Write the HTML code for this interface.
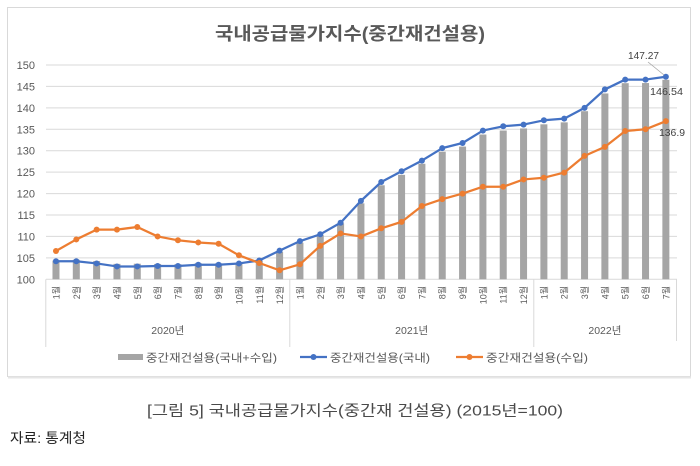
<!DOCTYPE html>
<html><head><meta charset="utf-8"><style>
html,body{margin:0;padding:0;background:#fff;}
svg{display:block;}
text{font-family:"Liberation Sans","Noto Sans CJK KR",sans-serif;}
</style></head><body>
<svg width="700" height="466" viewBox="0 0 700 466" xmlns="http://www.w3.org/2000/svg">
<rect x="0" y="0" width="700" height="466" fill="#fff"/>
<!-- frame -->
<rect x="7.5" y="7.5" width="683" height="369" fill="#fff" stroke="#d9d9d9" stroke-width="1"/>
<line x1="8" y1="377.5" x2="691" y2="377.5" stroke="#e6e6e6" stroke-width="2"/>
<!-- title -->
<text x="350" y="40" text-anchor="middle" font-size="18" font-weight="bold" fill="#595959" textLength="270" lengthAdjust="spacingAndGlyphs">국내공급물가지수(중간재건설용)</text>
<!-- gridlines -->
<g stroke="#d9d9d9" stroke-width="1">
<line x1="46" y1="65" x2="677" y2="65"/>
<line x1="46" y1="86.4" x2="677" y2="86.4"/>
<line x1="46" y1="107.9" x2="677" y2="107.9"/>
<line x1="46" y1="129.3" x2="677" y2="129.3"/>
<line x1="46" y1="150.7" x2="677" y2="150.7"/>
<line x1="46" y1="172.1" x2="677" y2="172.1"/>
<line x1="46" y1="193.6" x2="677" y2="193.6"/>
<line x1="46" y1="215" x2="677" y2="215"/>
<line x1="46" y1="236.4" x2="677" y2="236.4"/>
<line x1="46" y1="257.9" x2="677" y2="257.9"/>
<line x1="46" y1="279.3" x2="677" y2="279.3"/>
<line x1="45.8" y1="279.3" x2="45.8" y2="347"/>
<line x1="289.8" y1="279.3" x2="289.8" y2="347"/>
<line x1="533.8" y1="279.3" x2="533.8" y2="347"/>
<line x1="676.5" y1="279.3" x2="676.5" y2="341"/>
</g>
<!-- y labels -->
<g font-size="11" fill="#595959" text-anchor="end">
<text x="35" y="69">150</text>
<text x="35" y="90.4">145</text>
<text x="35" y="111.9">140</text>
<text x="35" y="133.3">135</text>
<text x="35" y="154.7">130</text>
<text x="35" y="176.1">125</text>
<text x="35" y="197.6">120</text>
<text x="35" y="219">115</text>
<text x="35" y="240.4">110</text>
<text x="35" y="261.9">105</text>
<text x="35" y="283.3">100</text>
</g>
<!-- bars -->
<g fill="#a5a5a5">
<rect x="52.47" y="260.57" width="7" height="18.73"/>
<rect x="72.80" y="259.76" width="7" height="19.54"/>
<rect x="93.13" y="261.08" width="7" height="18.22"/>
<rect x="113.46" y="263.87" width="7" height="15.43"/>
<rect x="133.79" y="263.7" width="7" height="15.6"/>
<rect x="154.12" y="263.96" width="7" height="15.34"/>
<rect x="174.45" y="264.21" width="7" height="15.09"/>
<rect x="194.78" y="263.18" width="7" height="16.12"/>
<rect x="215.11" y="263.27" width="7" height="16.03"/>
<rect x="235.44" y="262.88" width="7" height="16.42"/>
<rect x="255.77" y="260.61" width="7" height="18.69"/>
<rect x="276.10" y="251.96" width="7" height="27.34"/>
<rect x="296.43" y="242.78" width="7" height="36.52"/>
<rect x="316.76" y="235.11" width="7" height="44.19"/>
<rect x="337.09" y="223.45" width="7" height="55.85"/>
<rect x="357.42" y="203.35" width="7" height="75.95"/>
<rect x="377.75" y="185.27" width="7" height="94.03"/>
<rect x="398.08" y="174.85" width="7" height="104.45"/>
<rect x="418.41" y="163.75" width="7" height="115.55"/>
<rect x="438.74" y="151.71" width="7" height="127.59"/>
<rect x="459.07" y="146.56" width="7" height="132.74"/>
<rect x="479.40" y="134.52" width="7" height="144.78"/>
<rect x="499.73" y="130.53" width="7" height="148.77"/>
<rect x="520.06" y="128.43" width="7" height="150.87"/>
<rect x="540.39" y="124.32" width="7" height="154.98"/>
<rect x="560.72" y="122.35" width="7" height="156.95"/>
<rect x="581.05" y="111.2" width="7" height="168.1"/>
<rect x="601.38" y="93.46" width="7" height="185.84"/>
<rect x="621.71" y="83.17" width="7" height="196.13"/>
<rect x="642.04" y="83.04" width="7" height="196.26"/>
<rect x="662.37" y="79.83" width="7" height="199.47"/>
</g>
<!-- blue line -->
<polyline fill="none" stroke="#4472c4" stroke-width="2.25" stroke-linejoin="round" points="55.97,261.3 76.30,261.3 96.63,263.44 116.96,266.44 137.29,266.44 157.62,266.01 177.95,266.01 198.28,264.73 218.61,264.73 238.94,263.44 259.27,260.44 279.60,250.58 299.93,241.15 320.26,234.3 340.59,222.72 360.92,200.87 381.25,182.01 401.58,171.3 421.91,160.58 442.24,148.15 462.57,143.01 482.90,130.58 503.23,126.29 523.56,124.58 543.89,120.29 564.22,118.57 584.55,107.86 604.88,89.43 625.21,79.57 645.54,79.57 665.87,76.7"/>
<g fill="#4472c4">
<circle cx="55.97" cy="261.3" r="3"/><circle cx="76.30" cy="261.3" r="3"/><circle cx="96.63" cy="263.44" r="3"/><circle cx="116.96" cy="266.44" r="3"/><circle cx="137.29" cy="266.44" r="3"/><circle cx="157.62" cy="266.01" r="3"/><circle cx="177.95" cy="266.01" r="3"/><circle cx="198.28" cy="264.73" r="3"/><circle cx="218.61" cy="264.73" r="3"/><circle cx="238.94" cy="263.44" r="3"/><circle cx="259.27" cy="260.44" r="3"/><circle cx="279.60" cy="250.58" r="3"/><circle cx="299.93" cy="241.15" r="3"/><circle cx="320.26" cy="234.3" r="3"/><circle cx="340.59" cy="222.72" r="3"/><circle cx="360.92" cy="200.87" r="3"/><circle cx="381.25" cy="182.01" r="3"/><circle cx="401.58" cy="171.3" r="3"/><circle cx="421.91" cy="160.58" r="3"/><circle cx="442.24" cy="148.15" r="3"/><circle cx="462.57" cy="143.01" r="3"/><circle cx="482.90" cy="130.58" r="3"/><circle cx="503.23" cy="126.29" r="3"/><circle cx="523.56" cy="124.58" r="3"/><circle cx="543.89" cy="120.29" r="3"/><circle cx="564.22" cy="118.57" r="3"/><circle cx="584.55" cy="107.86" r="3"/><circle cx="604.88" cy="89.43" r="3"/><circle cx="625.21" cy="79.57" r="3"/><circle cx="645.54" cy="79.57" r="3"/><circle cx="665.87" cy="76.7" r="3"/>
</g>
<!-- orange line -->
<polyline fill="none" stroke="#ed7d31" stroke-width="2.25" stroke-linejoin="round" points="55.97,251.01 76.30,239.44 96.63,229.58 116.96,229.58 137.29,227.01 157.62,236.44 177.95,240.3 198.28,242.44 218.61,243.73 238.94,255.3 259.27,263.01 279.60,270.3 299.93,264.3 320.26,245.87 340.59,233.44 360.92,236.44 381.25,228.3 401.58,221.87 421.91,206.01 442.24,199.15 462.57,193.58 482.90,186.72 503.23,186.72 523.56,179.44 543.89,177.72 564.22,172.58 584.55,155.86 604.88,146.86 625.21,131.0 645.54,129.29 665.87,121.15"/>
<g fill="#ed7d31">
<circle cx="55.97" cy="251.01" r="3"/><circle cx="76.30" cy="239.44" r="3"/><circle cx="96.63" cy="229.58" r="3"/><circle cx="116.96" cy="229.58" r="3"/><circle cx="137.29" cy="227.01" r="3"/><circle cx="157.62" cy="236.44" r="3"/><circle cx="177.95" cy="240.3" r="3"/><circle cx="198.28" cy="242.44" r="3"/><circle cx="218.61" cy="243.73" r="3"/><circle cx="238.94" cy="255.3" r="3"/><circle cx="259.27" cy="263.01" r="3"/><circle cx="279.60" cy="270.3" r="3"/><circle cx="299.93" cy="264.3" r="3"/><circle cx="320.26" cy="245.87" r="3"/><circle cx="340.59" cy="233.44" r="3"/><circle cx="360.92" cy="236.44" r="3"/><circle cx="381.25" cy="228.3" r="3"/><circle cx="401.58" cy="221.87" r="3"/><circle cx="421.91" cy="206.01" r="3"/><circle cx="442.24" cy="199.15" r="3"/><circle cx="462.57" cy="193.58" r="3"/><circle cx="482.90" cy="186.72" r="3"/><circle cx="503.23" cy="186.72" r="3"/><circle cx="523.56" cy="179.44" r="3"/><circle cx="543.89" cy="177.72" r="3"/><circle cx="564.22" cy="172.58" r="3"/><circle cx="584.55" cy="155.86" r="3"/><circle cx="604.88" cy="146.86" r="3"/><circle cx="625.21" cy="131.0" r="3"/><circle cx="645.54" cy="129.29" r="3"/><circle cx="665.87" cy="121.15" r="3"/>
</g>
<!-- data labels -->
<line x1="648" y1="62" x2="664" y2="75" stroke="#a6a6a6" stroke-width="0.8"/>
<g font-size="10.5" fill="#404040">
<text x="628" y="59" textLength="31" lengthAdjust="spacingAndGlyphs">147.27</text>
<text x="650" y="95" textLength="33" lengthAdjust="spacingAndGlyphs">146.54</text>
<text x="659" y="136" textLength="26" lengthAdjust="spacingAndGlyphs">136.9</text>
</g>
<!-- month labels -->
<g font-size="9" fill="#595959" text-anchor="end">
<text transform="translate(59.5,286) rotate(-90)">1월</text>
<text transform="translate(79.8,286) rotate(-90)">2월</text>
<text transform="translate(100.1,286) rotate(-90)">3월</text>
<text transform="translate(120.5,286) rotate(-90)">4월</text>
<text transform="translate(140.8,286) rotate(-90)">5월</text>
<text transform="translate(161.1,286) rotate(-90)">6월</text>
<text transform="translate(181.5,286) rotate(-90)">7월</text>
<text transform="translate(201.8,286) rotate(-90)">8월</text>
<text transform="translate(222.1,286) rotate(-90)">9월</text>
<text transform="translate(242.4,286) rotate(-90)">10월</text>
<text transform="translate(262.8,286) rotate(-90)">11월</text>
<text transform="translate(283.1,286) rotate(-90)">12월</text>
<text transform="translate(303.4,286) rotate(-90)">1월</text>
<text transform="translate(323.8,286) rotate(-90)">2월</text>
<text transform="translate(344.1,286) rotate(-90)">3월</text>
<text transform="translate(364.4,286) rotate(-90)">4월</text>
<text transform="translate(384.8,286) rotate(-90)">5월</text>
<text transform="translate(405.1,286) rotate(-90)">6월</text>
<text transform="translate(425.4,286) rotate(-90)">7월</text>
<text transform="translate(445.7,286) rotate(-90)">8월</text>
<text transform="translate(466.1,286) rotate(-90)">9월</text>
<text transform="translate(486.4,286) rotate(-90)">10월</text>
<text transform="translate(506.7,286) rotate(-90)">11월</text>
<text transform="translate(527.1,286) rotate(-90)">12월</text>
<text transform="translate(547.4,286) rotate(-90)">1월</text>
<text transform="translate(567.7,286) rotate(-90)">2월</text>
<text transform="translate(588.1,286) rotate(-90)">3월</text>
<text transform="translate(608.4,286) rotate(-90)">4월</text>
<text transform="translate(628.7,286) rotate(-90)">5월</text>
<text transform="translate(649.0,286) rotate(-90)">6월</text>
<text transform="translate(669.4,286) rotate(-90)">7월</text>
</g>
<!-- year labels -->
<g font-size="10.5" fill="#595959" text-anchor="middle">
<text x="167.8" y="334">2020년</text>
<text x="411.7" y="334">2021년</text>
<text x="604.9" y="334">2022년</text>
</g>
<!-- legend -->
<rect x="118" y="354" width="25" height="6" fill="#a5a5a5"/>
<text x="146" y="361.5" font-size="11" fill="#595959" textLength="131" lengthAdjust="spacingAndGlyphs">중간재건설용(국내+수입)</text>
<line x1="300" y1="357" x2="327" y2="357" stroke="#4472c4" stroke-width="2.25"/>
<circle cx="313.5" cy="357" r="3" fill="#4472c4"/>
<text x="330" y="361.5" font-size="11" fill="#595959" textLength="100" lengthAdjust="spacingAndGlyphs">중간재건설용(국내)</text>
<line x1="456" y1="357" x2="483" y2="357" stroke="#ed7d31" stroke-width="2.25"/>
<circle cx="469.5" cy="357" r="3" fill="#ed7d31"/>
<text x="486" y="361.5" font-size="11" fill="#595959" textLength="102" lengthAdjust="spacingAndGlyphs">중간재건설용(수입)</text>
<!-- caption -->
<text x="147" y="415.5" font-size="15" fill="#4a4a4a" textLength="416" lengthAdjust="spacingAndGlyphs">[그림 5] 국내공급물가지수(중간재 건설용) (2015년=100)</text>
<text x="10" y="443" font-size="14" fill="#222" textLength="76" lengthAdjust="spacingAndGlyphs">자료: 통계청</text>
</svg>
</body></html>
